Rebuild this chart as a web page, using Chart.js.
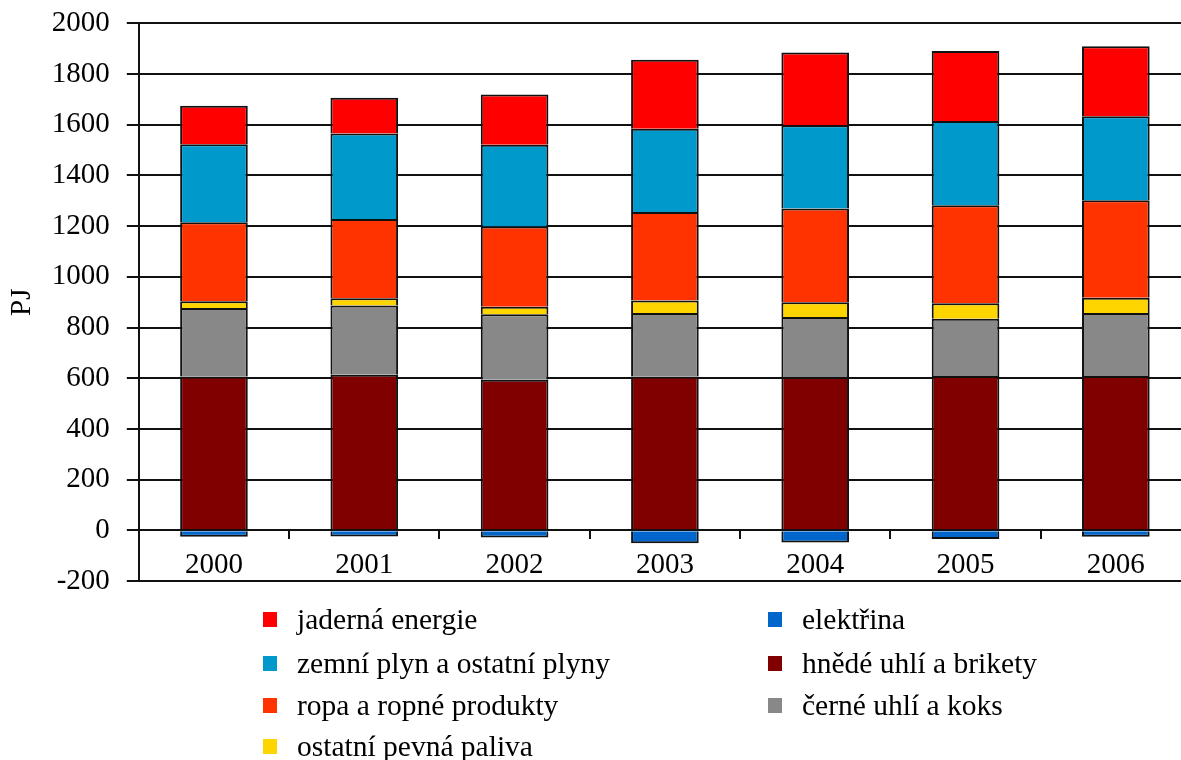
<!DOCTYPE html>
<html><head><meta charset="utf-8">
<script src="https://cdn.jsdelivr.net/npm/chart.js@4.4.1/dist/chart.umd.min.js"></script>
<style>
html,body{margin:0;padding:0;background:#fff;overflow:hidden;}
#wrap{position:relative;width:1181px;height:760px;overflow:hidden;}
#c{display:block;position:absolute;left:0;top:-11px;}
#legend{position:absolute;left:0;top:0;width:1181px;height:760px;pointer-events:none;font-family:"Liberation Serif";font-size:29.5px;color:#000;}
.item{position:absolute;white-space:nowrap;line-height:30px;}
.sw{display:inline-block;width:14px;height:15px;margin-right:20px;vertical-align:middle;position:relative;top:-3px;}
</style></head>
<body><div id="wrap"><canvas id="c" width="1191" height="771"></canvas><div id="legend"></div></div>
<script>
const years = ['2000','2001','2002','2003','2004','2005','2006'];
const elektrina = [-25, -24, -28, -51, -48, -34, -25];
const hnedeUhli = [607, 614, 594, 607, 605, 609, 609];
const cerneUhli = [270, 273, 258, 250, 237, 226, 248];
const ostatniPevna = [27, 29, 30, 50, 58, 61, 61];
const ropa = [311, 312, 317, 349, 370, 387, 384];
const zemniPlyn = [308, 338, 322, 328, 328, 332, 332];
const jaderna = [152, 141, 198, 273, 287, 276, 276];

const series = [
  {label:'hnědé uhlí a brikety', data:hnedeUhli, color:'#800000'},
  {label:'černé uhlí a koks', data:cerneUhli, color:'#888888'},
  {label:'ostatní pevná paliva', data:ostatniPevna, color:'#FFD500'},
  {label:'ropa a ropné produkty', data:ropa, color:'#FF3300'},
  {label:'zemní plyn a ostatní plyny', data:zemniPlyn, color:'#0099CC'},
  {label:'jaderná energie', data:jaderna, color:'#FF0000'},
  {label:'elektřina', data:elektrina, color:'#0066CC'}
];
const FONT = 'Liberation Serif';
new Chart(document.getElementById('c'), {
  type:'bar',
  data:{labels:years, datasets:series.map(s=>({label:s.label,data:s.data,backgroundColor:s.color,borderColor:'#111',borderWidth:2,barPercentage:0.45,categoryPercentage:1}))},
  options:{
    responsive:false, animation:false,
    layout:{padding:{left:0,top:0,right:0,bottom:179}},
    plugins:{legend:{display:false},tooltip:{enabled:false}},
    scales:{
      x:{stacked:true, position:{y:0},
        grid:{offset:true,drawOnChartArea:false,drawTicks:true,tickLength:8,color:'#111',lineWidth:2},
        border:{display:true,color:'#111',width:2},
        ticks:{color:'#000',font:{family:FONT,size:29},padding:10}},
      y:{stacked:true,min:-200,max:2000,
        ticks:{stepSize:200,color:'#000',font:{family:FONT,size:29},padding:17,callback:v=>String(v)},
        grid:{color:'#111',lineWidth:2,tickLength:12,drawTicks:true},
        border:{display:true,color:'#111',width:2},
        title:{display:true,text:'PJ',color:'#000',font:{family:FONT,size:29},padding:{top:5,bottom:-5}}}
    }
  }
});
const legendItems = [
  {label:'jaderná energie', color:'#FF0000', x:263, y:604},
  {label:'zemní plyn a ostatní plyny', color:'#0099CC', x:263, y:648},
  {label:'ropa a ropné produkty', color:'#FF3300', x:263, y:690},
  {label:'ostatní pevná paliva', color:'#FFD500', x:263, y:731},
  {label:'elektřina', color:'#0066CC', x:768, y:604},
  {label:'hnědé uhlí a brikety', color:'#800000', x:768, y:648},
  {label:'černé uhlí a koks', color:'#888888', x:768, y:690}
];
const lg = document.getElementById('legend');
legendItems.forEach(it=>{
  const d=document.createElement('div');d.className='item';d.style.left=it.x+'px';d.style.top=it.y+'px';
  d.innerHTML='<span class="sw" style="background:'+it.color+'"></span>'+it.label;
  lg.appendChild(d);
});
</script></body></html>
